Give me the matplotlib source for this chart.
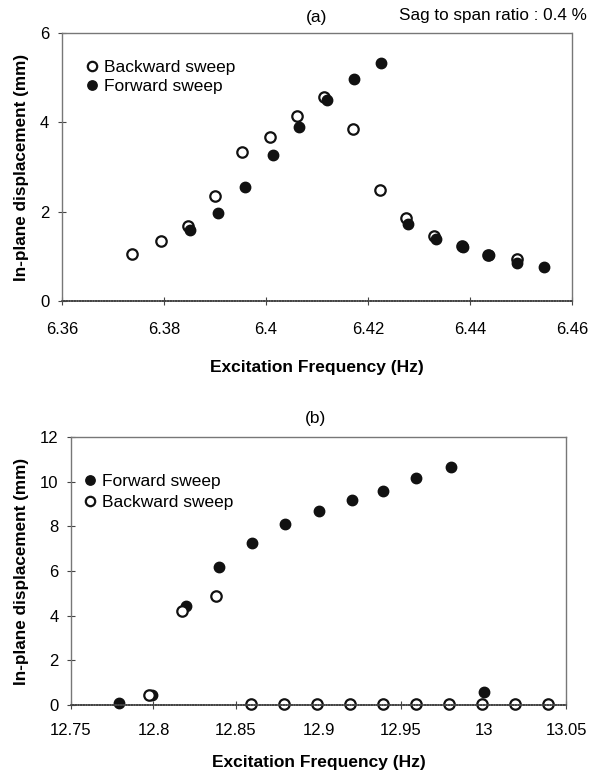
import matplotlib
matplotlib.use('Agg')
import matplotlib.pyplot as plt
import numpy as np

plt.rcParams['font.family'] = ['Liberation Sans', 'DejaVu Sans']

# panel (a) - sag to span ratio 0.4 %
a_back_f = [6.3738, 6.3795, 6.3848, 6.3901, 6.3954, 6.4009, 6.4062, 6.4114, 6.4170, 6.4223, 6.4274, 6.4330, 6.4385, 6.4436, 6.4492]
a_back_d = [1.06, 1.35, 1.67, 2.34, 3.33, 3.68, 4.14, 4.57, 3.86, 2.48, 1.85, 1.46, 1.23, 1.03, 0.94]
a_fwd_f = [6.3851, 6.3906, 6.3959, 6.4013, 6.4065, 6.4120, 6.4173, 6.4226, 6.4278, 6.4333, 6.4387, 6.4438, 6.4492, 6.4545]
a_fwd_d = [1.58, 1.96, 2.56, 3.27, 3.89, 4.50, 4.96, 5.32, 1.73, 1.38, 1.20, 1.03, 0.84, 0.77]

# panel (b)
b_fwd_f = [12.779, 12.799, 12.820, 12.840, 12.860, 12.880, 12.900, 12.920, 12.939, 12.959, 12.980, 13.000]
b_fwd_d = [0.07, 0.45, 4.43, 6.18, 7.25, 8.10, 8.70, 9.17, 9.59, 10.16, 10.65, 0.58]
b_back_f = [12.797, 12.817, 12.838, 12.859, 12.879, 12.899, 12.919, 12.939, 12.959, 12.979, 12.999, 13.019, 13.039]
b_back_d = [0.45, 4.20, 4.90, 0.06, 0.06, 0.06, 0.06, 0.06, 0.06, 0.06, 0.06, 0.06, 0.06]

fig = plt.figure(figsize=(5.89, 7.77), dpi=100)
axA = fig.add_axes([0.105, 0.6126, 0.866, 0.345])
axB = fig.add_axes([0.1205, 0.0927, 0.8405, 0.345])

ms = 7.5
open_kw = dict(linestyle='none', marker='o', markersize=ms, markerfacecolor='white',
               markeredgecolor='#111111', markeredgewidth=1.6)
fill_kw = dict(linestyle='none', marker='o', markersize=ms, markerfacecolor='#111111',
               markeredgecolor='#111111', markeredgewidth=1.0)

axA.plot(a_back_f, a_back_d, label='Backward sweep', **open_kw)
axA.plot(a_fwd_f, a_fwd_d, label='Forward sweep', **fill_kw)
axA.set_xlim(6.36, 6.46)
axA.set_ylim(0, 6)
axA.set_xticks([6.36, 6.38, 6.40, 6.42, 6.44, 6.46])
axA.set_xticklabels(['6.36', '6.38', '6.4', '6.42', '6.44', '6.46'])
axA.set_yticks([0, 2, 4, 6])

axB.plot(b_fwd_f, b_fwd_d, label='Forward sweep', **fill_kw)
axB.plot(b_back_f, b_back_d, label='Backward sweep', **open_kw)
axB.set_xlim(12.75, 13.05)
axB.set_ylim(0, 12)
axB.set_xticks([12.75, 12.8, 12.85, 12.9, 12.95, 13.0, 13.05])
axB.set_xticklabels(['12.75', '12.8', '12.85', '12.9', '12.95', '13', '13.05'])
axB.set_yticks([0, 2, 4, 6, 8, 10, 12])

legend_anchor = {axA: (0.028, 0.925), axB: (0.007, 0.888)}
legend_gap = {axA: 0.2, axB: 0.35}
x_pads = {axA: (12, 17), axB: (10, 12)}

for ax in (axA, axB):
    for side in ['top', 'right', 'left']:
        ax.spines[side].set_linestyle((0, (1, 1)))
        ax.spines[side].set_color('#777777')
        ax.spines[side].set_linewidth(1.0)
    ax.spines['bottom'].set_linestyle((0, (1, 0.6)))
    ax.spines['bottom'].set_color('#444444')
    ax.spines['bottom'].set_linewidth(1.2)
    ax.tick_params(direction='inout', length=6, width=0.8, color='#444444',
                   labelsize=12)
    ax.tick_params(axis='x', pad=x_pads[ax][0])
    ax.tick_params(axis='y', pad=6)
    ax.set_xlabel('Excitation Frequency (Hz)', fontsize=12.5, fontweight='bold',
                  labelpad=x_pads[ax][1])
    ax.set_ylabel('In-plane displacement (mm)', fontsize=12.3, fontweight='bold', labelpad=8)
    for ln in ax.lines:
        ln.set_clip_on(False)
    ax.legend(loc='upper left', bbox_to_anchor=legend_anchor[ax], frameon=False,
              fontsize=12.5, handlelength=1.0, handletextpad=0.2,
              labelspacing=legend_gap[ax], markerscale=0.9, borderaxespad=0)

fig.text(0.537, 0.978, '(a)', ha='center', va='center', fontsize=12.5)
fig.text(0.997, 0.980, 'Sag to span ratio : 0.4 %', ha='right', va='center', fontsize=12.3)
fig.text(0.535, 0.461, '(b)', ha='center', va='center', fontsize=12.5)

fig.savefig('out.png', dpi=100)
